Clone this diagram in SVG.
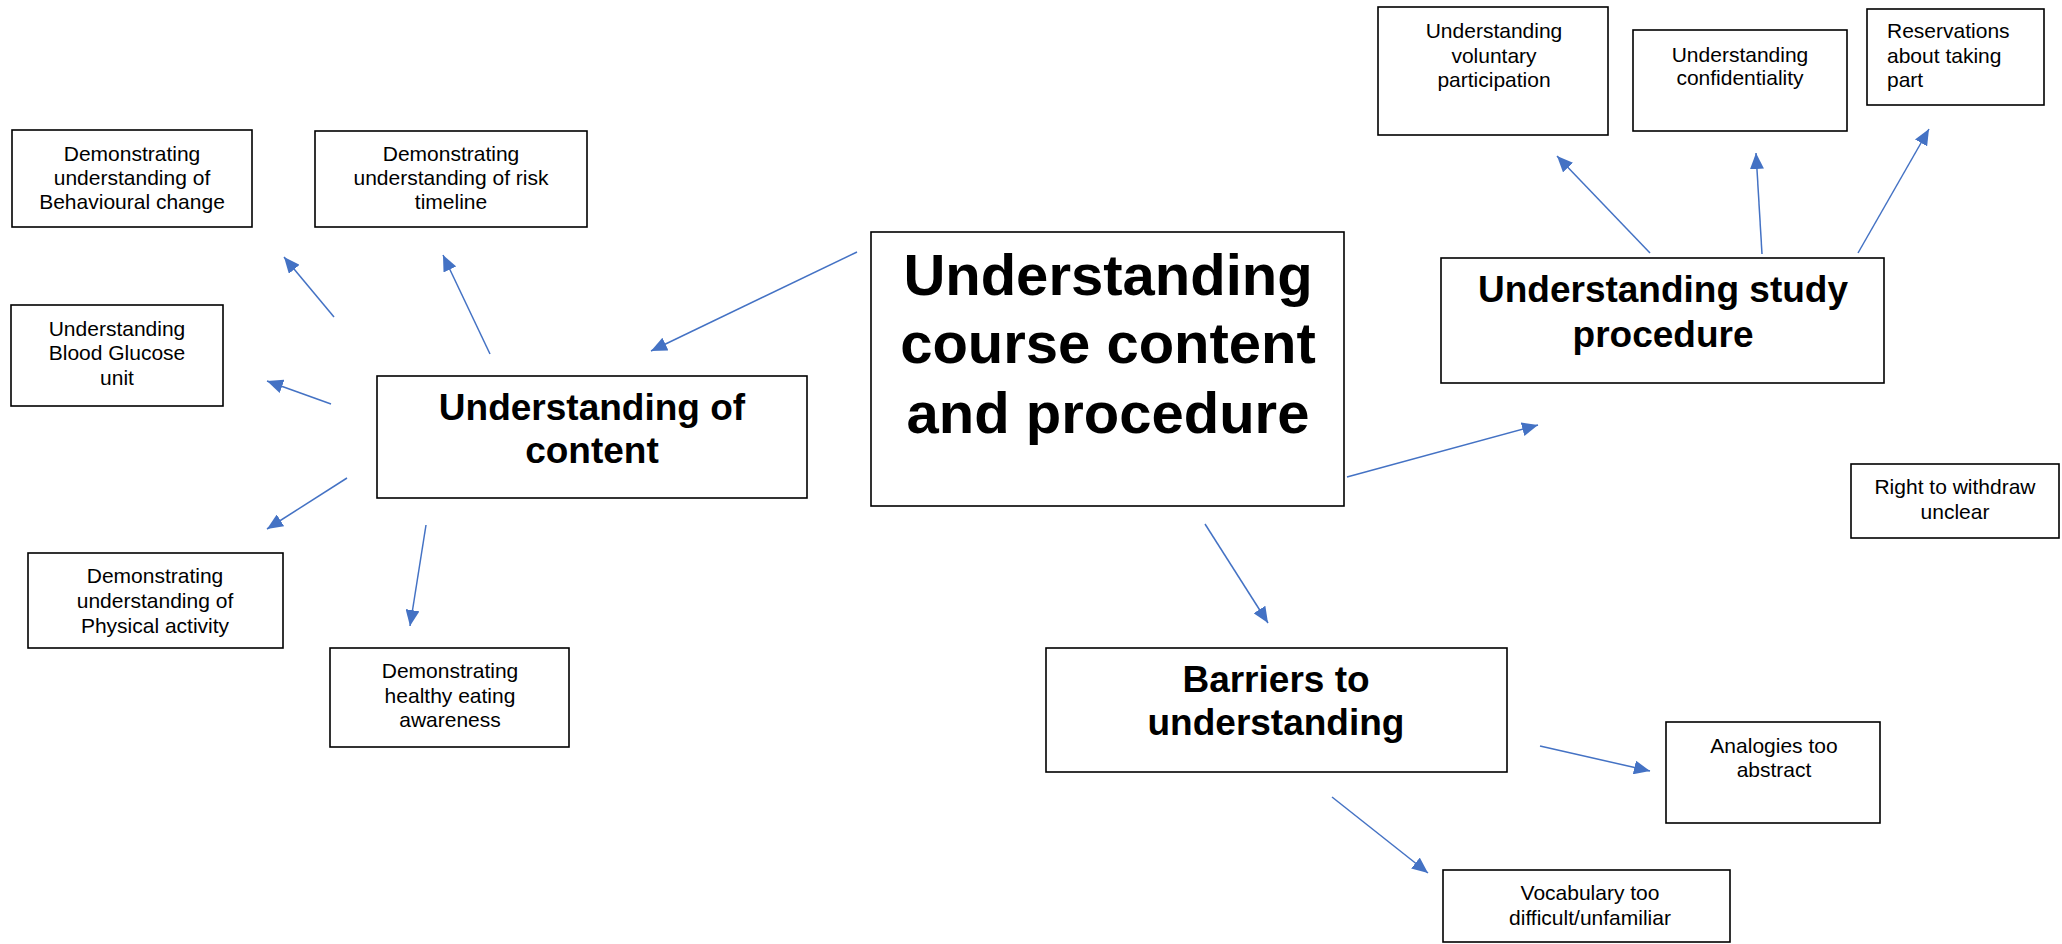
<svg xmlns="http://www.w3.org/2000/svg" width="2062" height="944" viewBox="0 0 2062 944">
<style>
.box{fill:#fff;stroke:#000;stroke-width:1.6}
.t{font-family:"Liberation Sans",Arial,sans-serif;font-size:21px;fill:#000;text-anchor:middle}
.tl{text-anchor:start}
.b{font-family:"Liberation Sans",Arial,sans-serif;font-weight:bold;font-size:37px;fill:#000;text-anchor:middle}
.bm{font-size:58px}
.c{stroke:#4472C4;stroke-width:1.5;fill:none;marker-end:url(#ah)}
</style>
<defs>
<marker id="ah" viewBox="0 0 16 14" refX="16" refY="7" markerWidth="16" markerHeight="14" markerUnits="userSpaceOnUse" orient="auto">
<path d="M0,0 L16,7 L0,14 z" fill="#4472C4"/>
</marker>
</defs>
<g id="connectors">
<line class="c" x1="857" y1="252" x2="651" y2="351"/>
<line class="c" x1="1347" y1="477" x2="1538" y2="425"/>
<line class="c" x1="1205" y1="524" x2="1268" y2="623"/>
<line class="c" x1="334" y1="317" x2="284" y2="257"/>
<line class="c" x1="490" y1="354" x2="443" y2="255"/>
<line class="c" x1="331" y1="404" x2="267" y2="381"/>
<line class="c" x1="347" y1="478" x2="267" y2="529"/>
<line class="c" x1="426" y1="525" x2="410" y2="626"/>
<line class="c" x1="1650" y1="253" x2="1557" y2="156"/>
<line class="c" x1="1762" y1="254" x2="1756" y2="153"/>
<line class="c" x1="1858" y1="253" x2="1929" y2="129"/>
<line class="c" x1="1540" y1="746" x2="1650" y2="771"/>
<line class="c" x1="1332" y1="797" x2="1428" y2="873"/>
</g>
<g id="main">
<rect class="box" x="871" y="232" width="473" height="274"/>
<text class="b bm" x="1108" y="295">Understanding</text>
<text class="b bm" x="1108" y="363">course content</text>
<text class="b bm" x="1108" y="433">and procedure</text>
</g>
<g id="content">
<rect class="box" x="377" y="376" width="430" height="122"/>
<text class="b" x="592" y="420">Understanding of</text>
<text class="b" x="592" y="463">content</text>
</g>
<g id="study">
<rect class="box" x="1441" y="258" width="443" height="125"/>
<text class="b" x="1663" y="302">Understanding study</text>
<text class="b" x="1663" y="347">procedure</text>
</g>
<g id="barriers">
<rect class="box" x="1046" y="648" width="461" height="124"/>
<text class="b" x="1276" y="692">Barriers to</text>
<text class="b" x="1276" y="735">understanding</text>
</g>
<g id="behavioural">
<rect class="box" x="12" y="130" width="240" height="97"/>
<text class="t" x="132" y="161">Demonstrating</text>
<text class="t" x="132" y="185">understanding of</text>
<text class="t" x="132" y="209">Behavioural change</text>
</g>
<g id="risk">
<rect class="box" x="315" y="131" width="272" height="96"/>
<text class="t" x="451" y="161">Demonstrating</text>
<text class="t" x="451" y="185">understanding of risk</text>
<text class="t" x="451" y="209">timeline</text>
</g>
<g id="glucose">
<rect class="box" x="11" y="305" width="212" height="101"/>
<text class="t" x="117" y="336">Understanding</text>
<text class="t" x="117" y="360">Blood Glucose</text>
<text class="t" x="117" y="385">unit</text>
</g>
<g id="physical">
<rect class="box" x="28" y="553" width="255" height="95"/>
<text class="t" x="155" y="583">Demonstrating</text>
<text class="t" x="155" y="608">understanding of</text>
<text class="t" x="155" y="633">Physical activity</text>
</g>
<g id="healthy">
<rect class="box" x="330" y="648" width="239" height="99"/>
<text class="t" x="450" y="678">Demonstrating</text>
<text class="t" x="450" y="703">healthy eating</text>
<text class="t" x="450" y="727">awareness</text>
</g>
<g id="voluntary">
<rect class="box" x="1378" y="7" width="230" height="128"/>
<text class="t" x="1494" y="38">Understanding</text>
<text class="t" x="1494" y="63">voluntary</text>
<text class="t" x="1494" y="87">participation</text>
</g>
<g id="confidentiality">
<rect class="box" x="1633" y="30" width="214" height="101"/>
<text class="t" x="1740" y="62">Understanding</text>
<text class="t" x="1740" y="85">confidentiality</text>
</g>
<g id="reservations">
<rect class="box" x="1867" y="9" width="177" height="96"/>
<text class="t tl" x="1887" y="38">Reservations</text>
<text class="t tl" x="1887" y="63">about taking</text>
<text class="t tl" x="1887" y="87">part</text>
</g>
<g id="withdraw">
<rect class="box" x="1851" y="464" width="208" height="74"/>
<text class="t" x="1955" y="494">Right to withdraw</text>
<text class="t" x="1955" y="519">unclear</text>
</g>
<g id="analogies">
<rect class="box" x="1666" y="722" width="214" height="101"/>
<text class="t" x="1774" y="753">Analogies too</text>
<text class="t" x="1774" y="777">abstract</text>
</g>
<g id="vocabulary">
<rect class="box" x="1443" y="870" width="287" height="72"/>
<text class="t" x="1590" y="900">Vocabulary too</text>
<text class="t" x="1590" y="925">difficult/unfamiliar</text>
</g>
</svg>
